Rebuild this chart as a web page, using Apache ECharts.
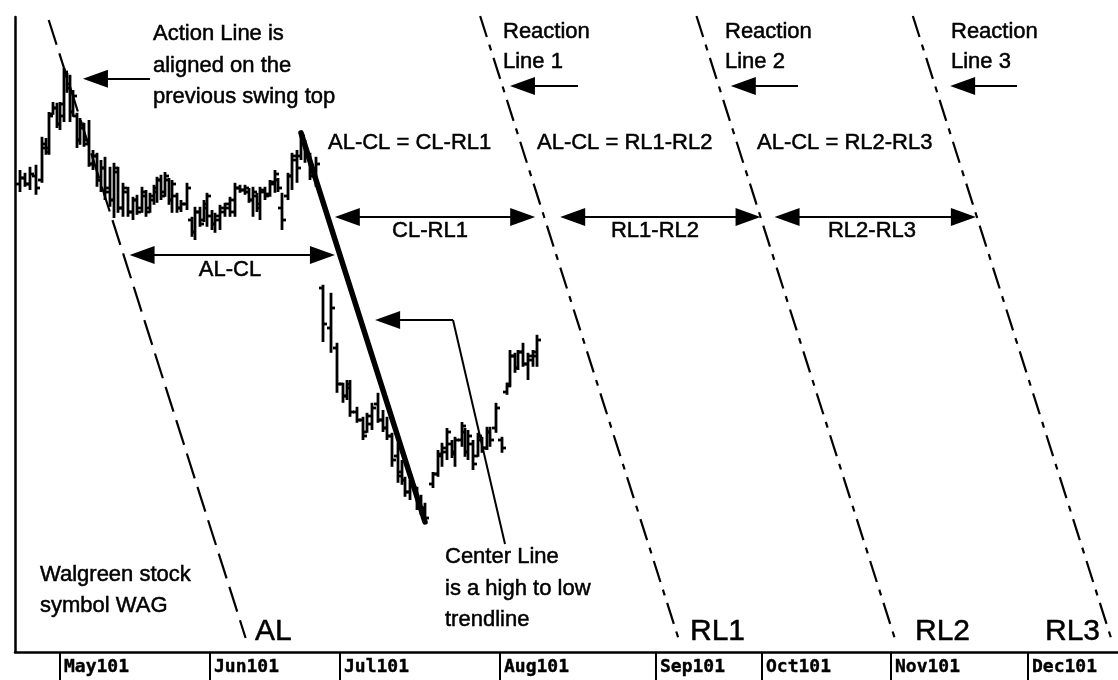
<!DOCTYPE html>
<html>
<head>
<meta charset="utf-8">
<title>Walgreen (WAG) – Action and Reaction Lines</title>
<script src="https://cdn.jsdelivr.net/npm/echarts@6/dist/echarts.min.js"></script>
<style>
  html, body { margin: 0; padding: 0; background: #fff; }
  #chart { width: 1118px; height: 680px; }
</style>
</head>
<body>
<div id="chart"></div>
<script>
// ---- data -------------------------------------------------------------
// month boundaries on the session axis and their labels
const monthLabels = ['May101', 'Jun101', 'Jul101', 'Aug101', 'Sep101', 'Oct101', 'Nov101', 'Dec101'];
const monthStarts = [9.0, 39.0, 65.0, 97.0, 128.2, 149.4, 175.2, 202.6];

// daily bars: session position, open, high, low, close
const sessions = [
  1.0, 2.0, 3.0, 4.2, 5.4, 6.2, 6.8, 7.6, 8.4, 9.0,
  9.8, 10.4, 11.0, 11.6, 12.4, 13.0, 13.8, 14.8, 15.6, 16.4,
  17.2, 18.0, 19.0, 19.8, 20.6, 21.6, 22.6, 23.6, 24.4, 25.4,
  26.2, 27.0, 27.8, 28.4, 29.2, 30.0, 30.8, 31.4, 32.4, 33.2,
  34.4, 35.4, 36.0, 37.0, 37.8, 38.4, 39.4, 40.0, 41.0, 42.0,
  43.0, 44.0, 45.0, 46.0, 46.8, 47.6, 48.4, 49.0, 50.0, 51.0,
  52.0, 52.6, 53.4, 54.6, 55.4, 56.4, 57.2, 58.0, 59.0, 60.2,
  61.6, 63.2, 64.4, 65.6, 66.4, 67.0, 68.4, 69.6, 70.4, 71.4,
  72.6, 73.6, 74.4, 75.4, 76.6, 77.4, 78.0, 79.0, 80.4, 81.2,
  82.0, 83.6, 84.6, 85.4, 86.4, 87.4, 88.0, 89.4, 90.0, 90.6,
  91.6, 92.6, 93.4, 94.4, 95.0, 96.2, 97.4, 98.4, 99.0, 100.0,
  100.6, 101.6, 102.6, 103.6, 104.4
];
const opens = [
  41.70, 41.85, 41.70, 41.90, 41.80, 42.60, 42.60, 43.45, 43.60, 43.20,
  43.40, 44.40, 44.20, 43.50, 43.40, 42.80, 43.10, 42.80, 42.20, 42.40,
  41.80, 42.10, 41.60, 41.30, 42.00, 41.10, 41.50, 41.00, 41.30, 41.10,
  41.40, 41.10, 41.30, 41.50, 41.80, 41.50, 41.80, 41.30, 41.40, 41.10,
  41.20, 40.80, 40.50, 41.00, 40.80, 41.10, 40.90, 40.70, 40.80, 41.00,
  41.10, 41.00, 41.60, 41.55, 41.50, 41.30, 41.40, 41.20, 41.50, 41.45,
  41.70, 41.80, 41.10, 41.40, 41.90, 42.30, 42.40, 42.70, 42.40, 41.90,
  39.10, 38.10, 37.60, 36.70, 36.40, 36.60, 36.00, 35.80, 35.50, 35.70,
  36.20, 35.80, 35.60, 35.40, 34.90, 34.50, 34.30, 34.00, 34.10, 33.70,
  33.60, 34.20, 34.45, 34.90, 35.00, 35.20, 35.00, 35.30, 35.50, 35.00,
  35.20, 34.90, 35.30, 35.10, 35.50, 35.60, 35.30, 36.50, 36.70, 37.40,
  37.10, 37.50, 37.20, 37.30, 37.40
];
const highs = [
  42.05, 41.98, 42.13, 42.18, 42.88, 42.85, 43.50, 43.75, 43.73, 43.75,
  44.60, 44.48, 44.43, 44.05, 43.48, 43.35, 43.23, 43.30, 42.55, 42.48,
  42.30, 42.38, 42.13, 42.23, 42.13, 41.73, 41.63, 41.38, 41.43, 41.63,
  41.55, 41.48, 41.68, 41.88, 41.93, 42.00, 41.85, 41.80, 41.48, 41.30,
  41.73, 40.88, 41.13, 41.13, 41.30, 41.48, 41.05, 40.98, 41.18, 41.23,
  41.38, 41.73, 41.68, 41.68, 41.60, 41.63, 41.48, 41.63, 41.63, 41.80,
  42.05, 41.85, 41.48, 41.98, 42.48, 42.55, 42.98, 42.80, 42.48, 42.38,
  39.18, 38.98, 37.73, 36.73, 36.80, 36.80, 36.13, 35.88, 35.98, 36.23,
  36.48, 36.05, 35.88, 35.48, 35.23, 34.80, 34.38, 34.30, 34.13, 33.93,
  33.73, 34.50, 35.05, 35.23, 35.60, 35.30, 35.38, 35.75, 35.60, 35.55,
  35.30, 35.48, 35.38, 35.63, 35.63, 36.23, 35.38, 36.73, 37.55, 37.48,
  37.55, 37.73, 37.48, 37.55, 37.93
];
const lows = [
  41.50, 41.63, 41.55, 41.43, 41.73, 42.43, 42.43, 43.43, 43.10, 43.05,
  43.25, 43.98, 43.25, 43.38, 42.60, 42.68, 42.63, 42.13, 42.05, 41.63,
  41.50, 41.30, 41.13, 40.85, 40.98, 40.88, 40.88, 40.80, 40.93, 40.98,
  40.88, 40.98, 41.18, 41.23, 41.30, 41.38, 41.18, 40.98, 40.98, 41.00,
  41.05, 40.38, 40.30, 40.63, 40.75, 40.63, 40.55, 40.48, 40.55, 40.88,
  40.88, 40.88, 41.48, 41.43, 41.23, 40.88, 41.00, 40.80, 41.30, 41.38,
  41.48, 41.50, 40.55, 41.30, 41.55, 41.73, 42.30, 42.23, 41.80, 41.63,
  37.75, 37.48, 36.48, 36.23, 36.30, 35.88, 35.73, 35.30, 35.48, 35.55,
  35.73, 35.50, 35.30, 34.63, 34.23, 34.18, 33.88, 33.80, 33.55, 33.43,
  33.25, 34.10, 34.38, 34.63, 34.80, 34.85, 34.63, 35.13, 34.88, 34.80,
  34.55, 34.88, 34.98, 35.05, 35.13, 35.48, 34.98, 36.43, 36.63, 36.98,
  37.05, 37.13, 36.80, 37.13, 37.13
];
const closes = [
  41.85, 41.70, 41.95, 41.60, 42.70, 42.50, 43.40, 43.60, 43.20, 43.70,
  44.50, 44.10, 43.50, 43.90, 42.80, 43.20, 42.70, 42.20, 42.40, 41.80,
  42.10, 41.50, 41.30, 42.10, 41.10, 41.60, 41.00, 41.30, 41.00, 41.50,
  41.00, 41.40, 41.60, 41.80, 41.40, 41.90, 41.30, 41.70, 41.10, 41.20,
  41.60, 40.50, 41.00, 40.70, 41.20, 41.40, 40.70, 40.90, 41.10, 41.20,
  41.30, 41.60, 41.55, 41.60, 41.30, 41.50, 41.10, 41.55, 41.40, 41.75,
  41.95, 41.60, 40.80, 41.90, 42.40, 42.10, 42.90, 42.40, 41.90, 42.20,
  38.20, 38.60, 36.70, 36.40, 36.70, 36.00, 35.80, 35.40, 35.90, 36.10,
  35.80, 35.60, 35.40, 34.80, 34.40, 34.30, 34.00, 34.20, 33.70, 33.60,
  33.35, 34.45, 34.95, 35.10, 35.50, 34.95, 35.30, 35.65, 35.00, 35.40,
  34.70, 35.40, 35.10, 35.50, 35.30, 36.10, 35.10, 36.65, 37.40, 37.10,
  37.50, 37.20, 37.40, 37.50, 37.80
];

// pivot bars
const swingTopIdx = 10;  // previous swing top, anchors the Action Line
const clHighIdx = 66;    // Center Line starts at this high
const clLowIdx = 90;     // Center Line ends at this low

// ---- geometry of the parallel lines ---------------------------------------
const clHigh = [sessions[clHighIdx], highs[clHighIdx]];
const clLow = [sessions[clLowIdx], lows[clLowIdx]];
const slope = (clLow[1] - clHigh[1]) / (clLow[0] - clHigh[0]);
const clAt = p => clHigh[0] + (p - clHigh[1]) / slope;
const spacing = clAt(highs[swingTopIdx]) - sessions[swingTopIdx];
// k = -1 Action Line, 0 Center Line, 1..3 Reaction Lines
const lineAt = (k, p) => clAt(p) + k * spacing;

const Y_MIN = 30, Y_MAX = 45.875, X_MAX = 220.6;
const HEAD = { w: 18, h: 25 };
const HALF = 2.5; // half arrow-head length in session units

const dashed = (name, k, pTop, pBot, dash) => ({
  name, type: 'line', clip: false, silent: true, symbol: 'none', animation: false,
  data: [[lineAt(k, pTop), pTop], [lineAt(k, pBot), pBot]],
  lineStyle: { color: '#000', width: 2.2, type: dash }
});

// arrows: horizontal, tip-to-tip
const tri = { symbol: 'triangle', symbolSize: [HEAD.w, HEAD.h] };
const none = { symbol: 'none' };
function doubleArrow(x1, x2, p) {
  return [{ coord: [x1 + HALF, p], ...tri }, { coord: [x2 - HALF, p], ...tri }];
}
function leftArrow(tip, tail, p) {
  return [{ coord: [tail, p], ...none }, { coord: [tip + HALF, p], ...tri }];
}
const pA = 40.875, pB = 39.925, pR = 44.15, pC = 38.3;
const arrows = [
  doubleArrow(lineAt(-1, pB) + 1.2, lineAt(0, pB) - 1.0, pB),
  doubleArrow(lineAt(0, pA) + 1.4, lineAt(1, pA) - 1.8, pA),
  doubleArrow(lineAt(1, pA) + 3.2, lineAt(2, pA), pA),
  doubleArrow(lineAt(2, pA) + 2.8, lineAt(3, pA) - 0.2, pA),
  leftArrow(lineAt(-1, 44.33) + 3.1, 27.0, 44.33),
  leftArrow(lineAt(1, pR) + 1.5, 112.6, pR),
  leftArrow(lineAt(2, pR) + 2.4, 156.6, pR),
  leftArrow(lineAt(3, pR) + 3.0, 200.4, pR),
  leftArrow(lineAt(0, pC) + 2.9, 87.6, pC),
  [{ coord: [87.6, pC], ...none }, { coord: [98.0, 32.7], ...none }]
];

// ---- text notes --------------------------------------------------------
const F = '22px "Liberation Sans", Arial, sans-serif';
const FB = '30px "Liberation Sans", Arial, sans-serif';
const notes = [
  [153, 34, 'Action Line is'], [153, 66, 'aligned on the'], [153, 97, 'previous swing top'],
  [503, 32, 'Reaction'], [503, 62, 'Line 1'],
  [725, 32, 'Reaction'], [725, 62, 'Line 2'],
  [951, 32, 'Reaction'], [951, 62, 'Line 3'],
  [328, 143, 'AL-CL = CL-RL1'], [537, 143, 'AL-CL = RL1-RL2'], [757, 143, 'AL-CL = RL2-RL3'],
  [445, 557, 'Center Line'], [445, 589, 'is a high to low'], [445, 620, 'trendline'],
  [40, 575, 'Walgreen stock'], [40, 606, 'symbol WAG']
];
const centered = [[430, 231, 'CL-RL1'], [655, 231, 'RL1-RL2'], [872, 231, 'RL2-RL3'], [230, 270, 'AL-CL']];
const lineNames = [[255, 632, 'AL'], [690, 632, 'RL1'], [915, 632, 'RL2'], [1045, 632, 'RL3']];

const textEl = (x, y, text, font, align) => ({
  type: 'text', x, y, silent: true, z: 10,
  style: {
    text, font, fill: '#000', stroke: '#000', lineWidth: 0.5,
    align: align || 'left', verticalAlign: 'middle'
  }
});

const graphic = []
  .concat(notes.map(n => textEl(n[0], n[1], n[2], F)))
  .concat(centered.map(n => textEl(n[0], n[1], n[2], F, 'center')))
  .concat(lineNames.map(n => textEl(n[0], n[1], n[2], FB)));

// ---- chart ---------------------------------------------------------------
const chart = echarts.init(document.getElementById('chart'), null, { renderer: 'canvas' });
const ohlc = sessions.map((s, i) => [s, opens[i], highs[i], lows[i], closes[i]]);

chart.setOption({
  animation: false,
  backgroundColor: '#fff',
  grid: { left: 15, right: 0, top: 17, bottom: 28, containLabel: false },
  xAxis: {
    type: 'value', min: 0, max: X_MAX,
    axisLine: { show: true, onZero: false, lineStyle: { color: '#000', width: 2.5 } },
    splitLine: { show: false },
    axisTick: { show: true, inside: false, length: 28, customValues: monthStarts,
      lineStyle: { color: '#000', width: 2 } },
    axisLabel: {
      show: true, customValues: monthStarts, align: 'left', margin: 6,
      padding: [0, 0, 0, 4],
      fontFamily: '"DejaVu Sans Mono", monospace', fontWeight: 'bold', fontSize: 18,
      color: '#000', textBorderColor: '#000', textBorderWidth: 0.4,
      formatter: v => {
        const i = monthStarts.findIndex(m => Math.abs(m - v) < 1e-6);
        return i >= 0 ? monthLabels[i] : '';
      }
    }
  },
  yAxis: {
    type: 'value', min: Y_MIN, max: Y_MAX,
    axisLine: { show: true, lineStyle: { color: '#000', width: 2.5 } },
    axisTick: { show: false }, axisLabel: { show: false }, splitLine: { show: false }
  },
  graphic,
  series: [
    {
      name: 'WAG', type: 'custom', data: ohlc, silent: true,
      encode: { x: 0, y: [1, 2, 3, 4] },
      renderItem: (params, api) => {
        const x = api.value(0);
        const hi = api.coord([x, api.value(2)]);
        const lo = api.coord([x, api.value(3)]);
        const op = api.coord([x, api.value(1)]);
        const cl = api.coord([x, api.value(4)]);
        const st = { stroke: '#000', lineWidth: 2.8 };
        return {
          type: 'group',
          children: [
            { type: 'line', shape: { x1: hi[0], y1: hi[1], x2: lo[0], y2: lo[1] }, style: st },
            { type: 'line', shape: { x1: op[0] - 4, y1: op[1], x2: op[0], y2: op[1] }, style: st },
            { type: 'line', shape: { x1: cl[0], y1: cl[1], x2: cl[0] + 4, y2: cl[1] }, style: st }
          ]
        };
      }
    },
    dashed('AL', -1, 45.8, 30.35, [26, 9]),
    dashed('RL1', 1, 45.9, 30.25, [22, 8, 6, 8]),
    dashed('RL2', 2, 45.9, 30.25, [22, 8, 6, 8]),
    dashed('RL3', 3, 45.9, 30.25, [22, 8, 6, 8]),
    {
      name: 'CL', type: 'line', clip: false, silent: true, symbol: 'none',
      data: [clHigh, clLow],
      lineStyle: { color: '#000', width: 5.5, cap: 'round' }
    },
    {
      name: 'notes', type: 'line', data: [], silent: true,
      markLine: {
        silent: true, animation: false,
        label: { show: false },
        emphasis: { disabled: true },
        lineStyle: { color: '#000', width: 2, type: 'solid' },
        itemStyle: { color: '#000' },
        data: arrows
      }
    }
  ]
});
</script>
</body>
</html>
